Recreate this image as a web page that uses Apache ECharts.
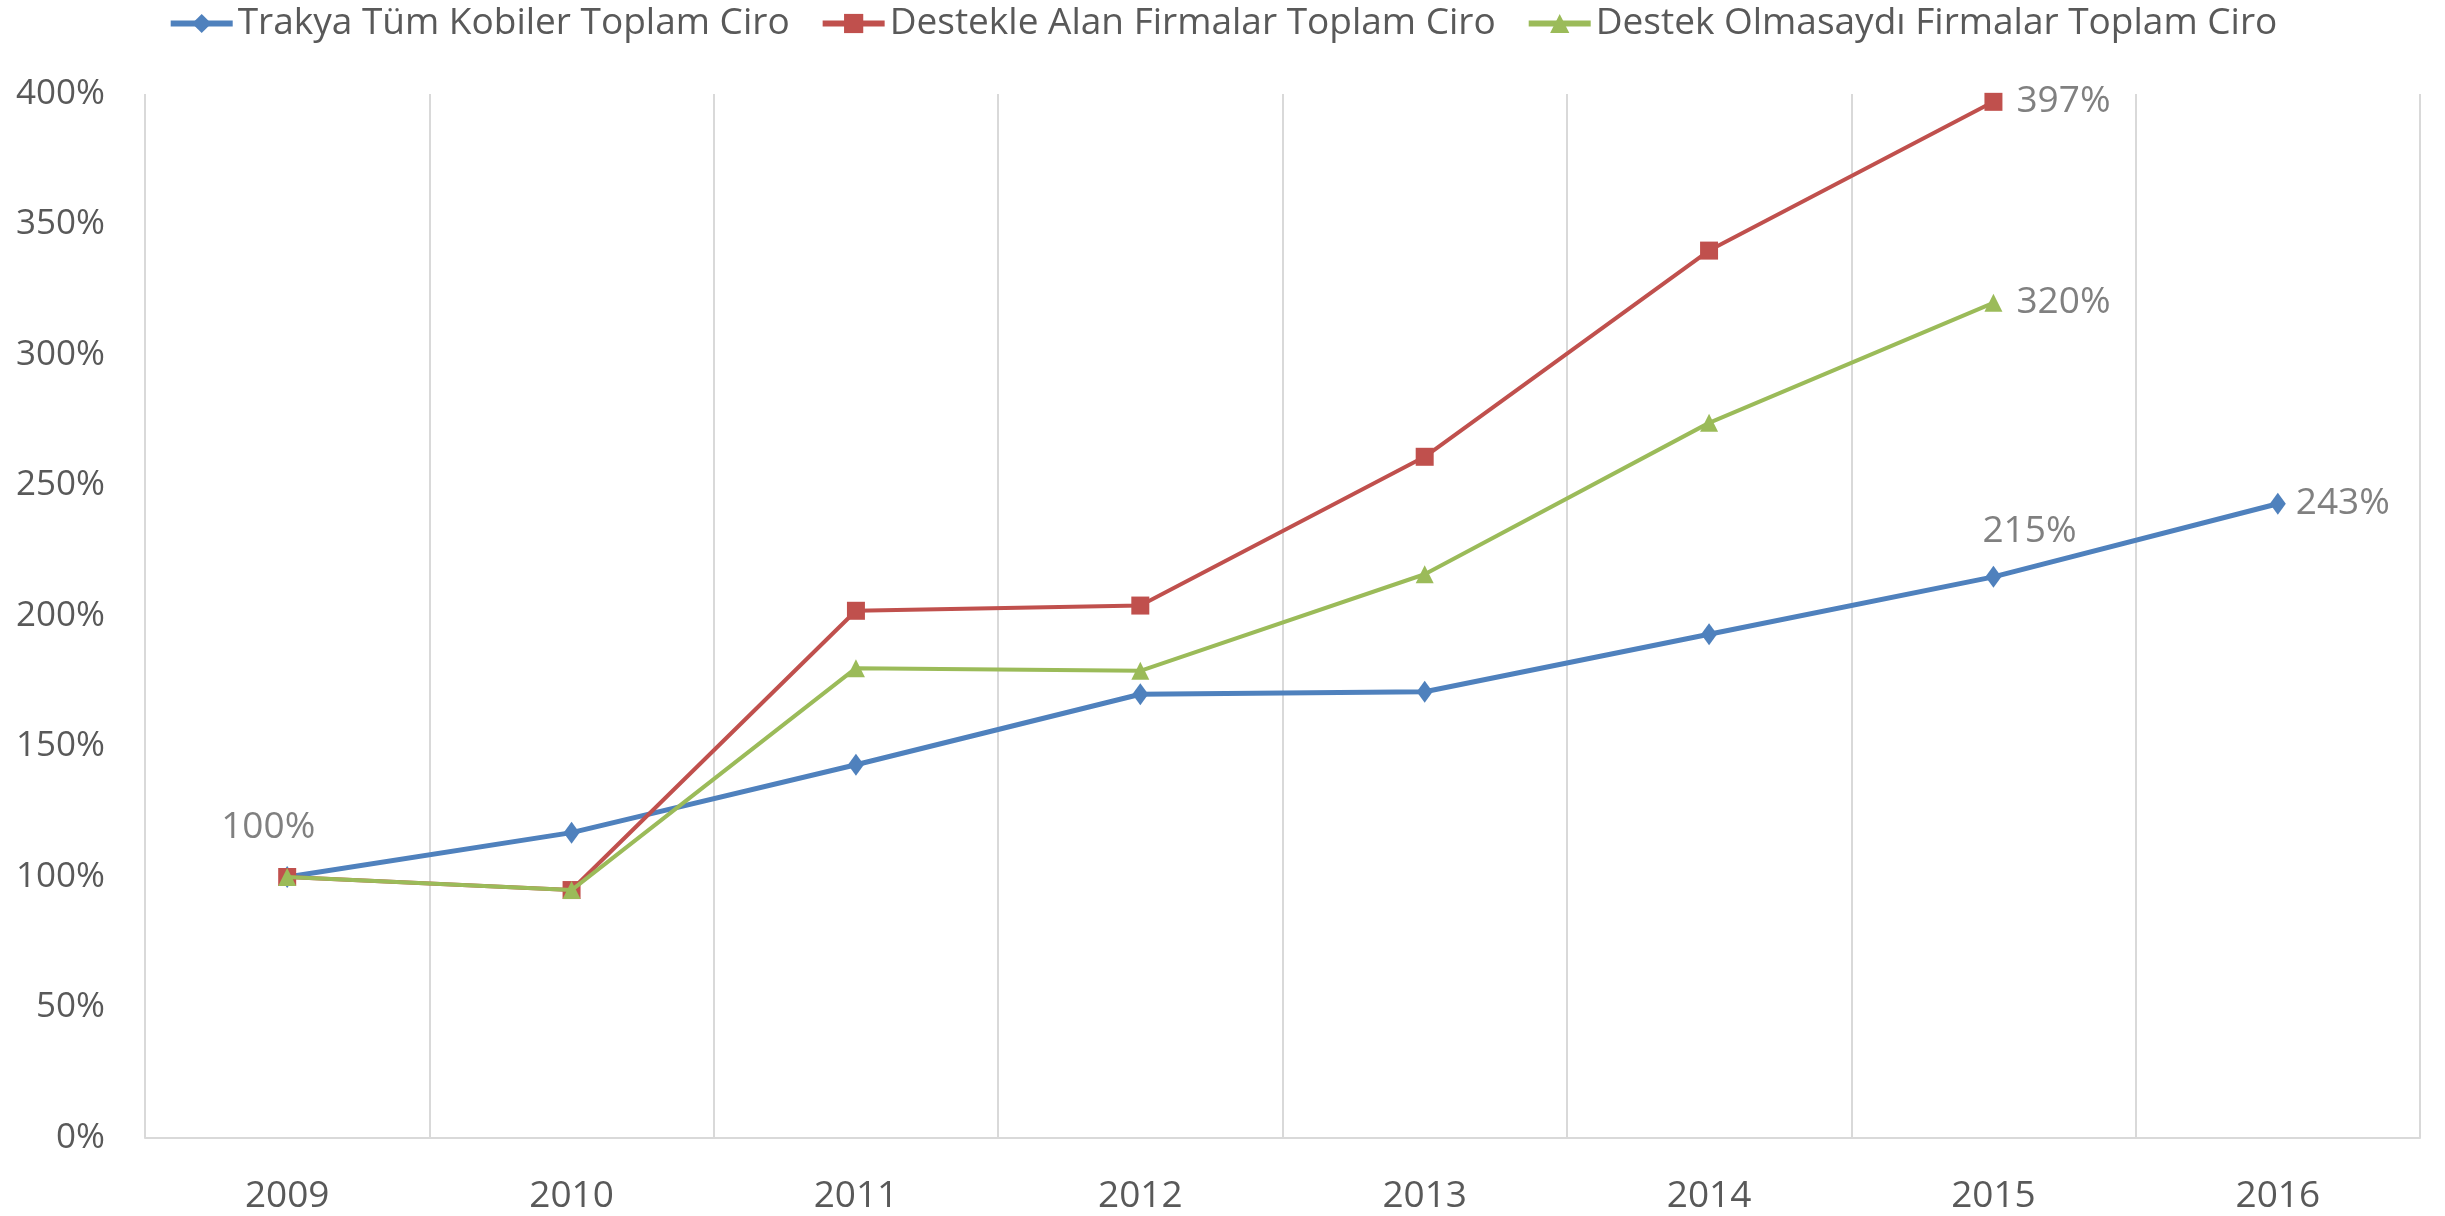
<!DOCTYPE html>
<html>
<head>
<meta charset="utf-8">
<script src="https://cdn.jsdelivr.net/npm/echarts@6/dist/echarts.min.js"></script>
<style>
  html, body { margin: 0; padding: 0; background: #fff; }
  #chart { width: 2445px; height: 1216px; }
</style>
</head>
<body>
<div id="chart"></div>
<script>
// yillar ve seriler
var years = ['2009', '2010', '2011', '2012', '2013', '2014', '2015', '2016'];
var trakya = [100, 117, 143, 170, 171, 193, 215, 243];
var destekAlan = [100, 95, 202, 204, 261, 340, 397, null];
var destekOlmasa = [100, 95, 180, 179, 216, 274, 320, null];
var yTicks = [0, 50, 100, 150, 200, 250, 300, 350, 400];

var FONT = '"Open Sans", sans-serif';
var lblStyle = { color: '#808080', fontSize: 37, fontFamily: FONT };

// sadece bazi noktalarda etiket var
function withLabels(vals, labels) {
    return vals.map(function (v, i) {
        if (!labels[i]) return v;
        return { value: v, label: Object.assign({ show: true, formatter: '{c}%' }, lblStyle, labels[i]) };
    });
}

var chart = echarts.init(document.getElementById('chart'));
chart.setOption({
    animation: false,
    backgroundColor: '#fff',
    legend: {
        top: 0,
        left: 'center',
        itemWidth: 62,
        itemHeight: 24,
        itemGap: 30,
        lineStyle: { width: 6 },
        textStyle: { color: '#595959', fontSize: 37, fontFamily: FONT },
        data: ['Trakya Tüm Kobiler Toplam Ciro', 'Destekle Alan Firmalar Toplam Ciro', 'Destek Olmasaydı Firmalar Toplam Ciro']
    },
    grid: { left: 145, right: 25, top: 94, bottom: 78 },
    xAxis: {
        type: 'category',
        data: years,
        boundaryGap: true,
        axisLine: { lineStyle: { color: '#d9d9d9', width: 2 } },
        axisTick: { show: false },
        splitLine: { show: true, lineStyle: { color: '#d9d9d9', width: 2 } },
        axisLabel: { color: '#595959', fontSize: 37, fontFamily: FONT, margin: 40 }
    },
    yAxis: {
        type: 'value',
        min: 0,
        max: 400,
        interval: 50,
        axisLine: { show: false },
        axisTick: { show: false },
        splitLine: { show: false },
        axisLabel: { color: '#595959', fontSize: 35, fontFamily: FONT, margin: 40, formatter: '{value}%' }
    },
    series: [
        {
            name: 'Trakya Tüm Kobiler Toplam Ciro',
            type: 'line',
            z: 2,
            color: '#4f81bd',
            symbol: 'diamond',
            symbolSize: [16, 22],
            lineStyle: { width: 5 },
            data: withLabels(trakya, {
                0: { position: 'top', distance: 20, offset: [-19, 0] },
                6: { position: 'top', distance: 16, offset: [36, 0] },
                7: { position: 'right', distance: 10 }
            })
        },
        {
            name: 'Destekle Alan Firmalar Toplam Ciro',
            type: 'line',
            z: 3,
            color: '#c0504d',
            symbol: 'rect',
            symbolSize: 18,
            lineStyle: { width: 4 },
            data: withLabels(destekAlan, {
                6: { position: 'right', distance: 14 }
            })
        },
        {
            name: 'Destek Olmasaydı Firmalar Toplam Ciro',
            type: 'line',
            z: 4,
            color: '#9bbb59',
            symbol: 'triangle',
            symbolSize: 18,
            lineStyle: { width: 4 },
            data: withLabels(destekOlmasa, {
                6: { position: 'right', distance: 14 }
            })
        }
    ]
});
</script>
</body>
</html>
